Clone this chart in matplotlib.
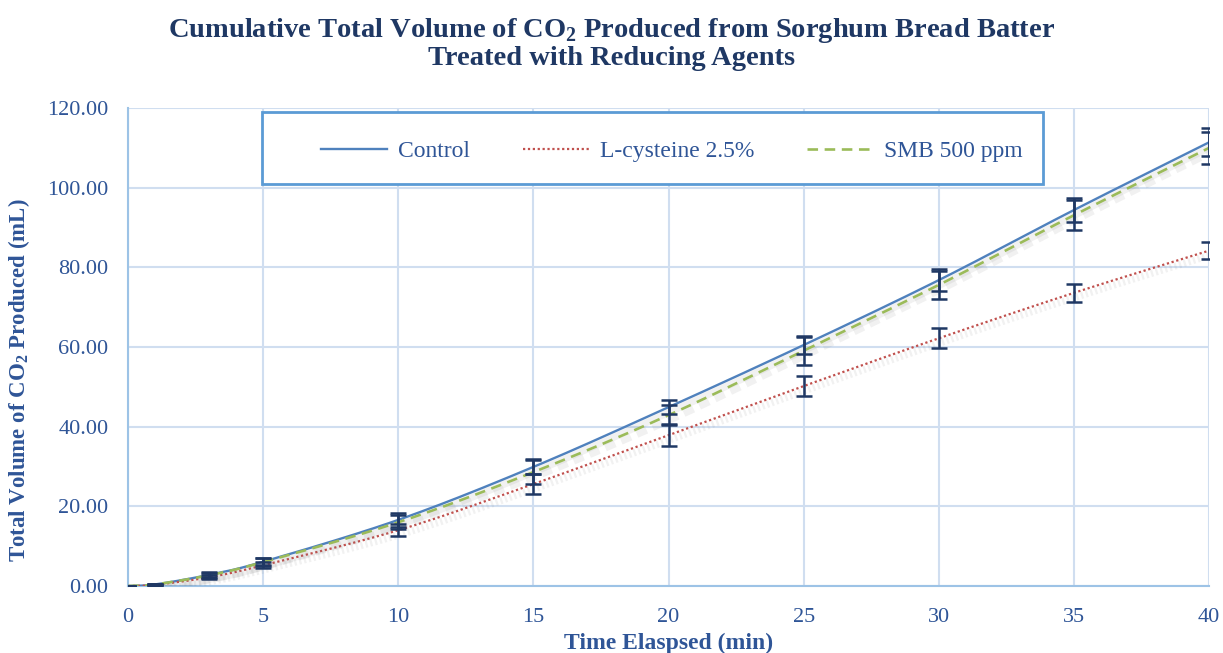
import matplotlib.pyplot as plt
import matplotlib.patheffects as pe
from matplotlib.lines import Line2D
from matplotlib.patches import Rectangle
import numpy as np

plt.rcParams['font.family'] = ['Liberation Serif', 'DejaVu Serif']
plt.rcParams['mathtext.fontset'] = 'custom'
plt.rcParams['mathtext.rm'] = 'Liberation Serif'
plt.rcParams['mathtext.bf'] = 'Liberation Serif:bold'

# sampling times (min) and cumulative CO2 volume (mL)
time_min = [0, 1, 3, 5, 10, 15, 20, 25, 30, 35, 40]
control = [0, 0.4, 2.8, 6.1, 16.6, 29.9, 44.9, 60.5, 76.8, 94.4, 111.4]
cysteine = [0, 0.3, 2.2, 5.2, 14.0, 25.6, 37.9, 50.2, 62.2, 73.6, 84.2]
smb = [0, 0.4, 2.7, 6.0, 16.0, 28.6, 42.9, 59.1, 75.6, 93.1, 110.0]

control_err = [0, 0.2, 0.6, 0.9, 1.7, 1.9, 1.8, 2.3, 2.7, 3.0, 3.5]
cysteine_err = [0, 0.2, 0.5, 0.8, 1.5, 2.6, 2.8, 2.5, 2.5, 2.3, 2.2]
smb_err = [0, 0.2, 0.6, 1.0, 1.8, 3.0, 2.5, 3.5, 3.6, 3.8, 4.0]

labels = ['Control', 'L-cysteine 2.5%', 'SMB 500 ppm']
x_ticks = [0, 5, 10, 15, 20, 25, 30, 35, 40]
y_ticks = [0, 20, 40, 60, 80, 100, 120]

navy = '#1F3864'
tick_col = '#2F5597'


def smooth(x, y, n=30):
    # Catmull-Rom curve through the points, like a spreadsheet "smoothed line"
    x = np.asarray(x, float)
    y = np.asarray(y, float)
    px = np.concatenate([[2 * x[0] - x[1]], x, [2 * x[-1] - x[-2]]])
    py = np.concatenate([[2 * y[0] - y[1]], y, [2 * y[-1] - y[-2]]])
    xs, ys = [], []
    t = np.linspace(0, 1, n)
    for i in range(1, len(px) - 2):
        for arr, out in ((px, xs), (py, ys)):
            p0, p1, p2, p3 = arr[i - 1], arr[i], arr[i + 1], arr[i + 2]
            out.extend(0.5 * ((2 * p1) + (-p0 + p2) * t
                              + (2 * p0 - 5 * p1 + 4 * p2 - p3) * t ** 2
                              + (-p0 + 3 * p1 - 3 * p2 + p3) * t ** 3))
    return xs, ys


fig = plt.figure(figsize=(12.23, 6.53), dpi=100)
ax = fig.add_axes([0.1047, 0.1026, 0.8840, 0.7320])

# soft drop shadow under each curve
shadow = [pe.SimpleLineShadow(offset=(2, -3), shadow_color='#777777', alpha=0.10, linewidth=5),
          pe.Normal()]

styles = [
    (control, control_err, dict(color='#4F81BD', lw=1.7, ls='-')),
    (cysteine, cysteine_err, dict(color='#C0504D', lw=1.6, ls=(0, (1, 1.2)))),
    (smb, smb_err, dict(color='#9BBB59', lw=1.9, ls=(0, (4, 2.5)))),
]
handles = []
for (vals, err, st), lab in zip(styles, labels):
    sx, sy = smooth(time_min, vals)
    ax.plot(sx, sy, zorder=3, path_effects=shadow, **st)
    handles.append(Line2D([], [], label=lab, **st))
    ax.errorbar(time_min, vals, yerr=err, fmt='none', ecolor=navy,
                elinewidth=1.8, capsize=6, capthick=1.8, zorder=4)

ax.set_xlim(0, 40)
ax.set_ylim(0, 120)
ax.set_xticks(x_ticks)
ax.set_yticks(y_ticks)
ax.set_yticklabels([f'{v:.2f}' for v in y_ticks])
ax.grid(True, color='#D0DEF0', lw=1.5)
ax.set_axisbelow(True)
for s in ['top', 'right']:
    ax.spines[s].set_visible(False)
for s in ['left', 'bottom']:
    ax.spines[s].set_color('#9DC3E6')
    ax.spines[s].set_linewidth(1.5)
ax.tick_params(length=0, labelsize=16, labelcolor=tick_col)
ax.tick_params(axis='y', pad=14)
ax.tick_params(axis='x', pad=16)

ax.set_xlabel('Time Elaspsed (min)', fontsize=17, fontweight='bold', color=tick_col, labelpad=4)
ax.set_ylabel(r'Total Volume of CO$_\mathbf{2}$ Produced (mL)', fontsize=16.5,
              fontweight='bold', color=tick_col)
ax.yaxis.set_label_coords(-0.0885, 0.431)
fig.suptitle('Cumulative Total Volume of CO$_\\mathbf{2}$ Produced from Sorghum Bread Batter\n'
             'Treated with Reducing Agents', fontsize=20.5, fontweight='bold',
             color=navy, y=0.975, linespacing=1.05)

# legend panel
ax.add_patch(Rectangle((0.124, 0.841), 0.722, 0.151, transform=ax.transAxes,
                       facecolor='white', edgecolor='#5B9BD5', lw=2, zorder=5))
leg = ax.legend(handles=handles, loc='center', bbox_to_anchor=(0.503, 0.910),
                ncol=3, frameon=False, fontsize=17, handlelength=2.8,
                columnspacing=2.25, handletextpad=0.45)
leg.set_zorder(6)
for t in leg.get_texts():
    t.set_color(tick_col)

fig.savefig('out.png', dpi=100)
